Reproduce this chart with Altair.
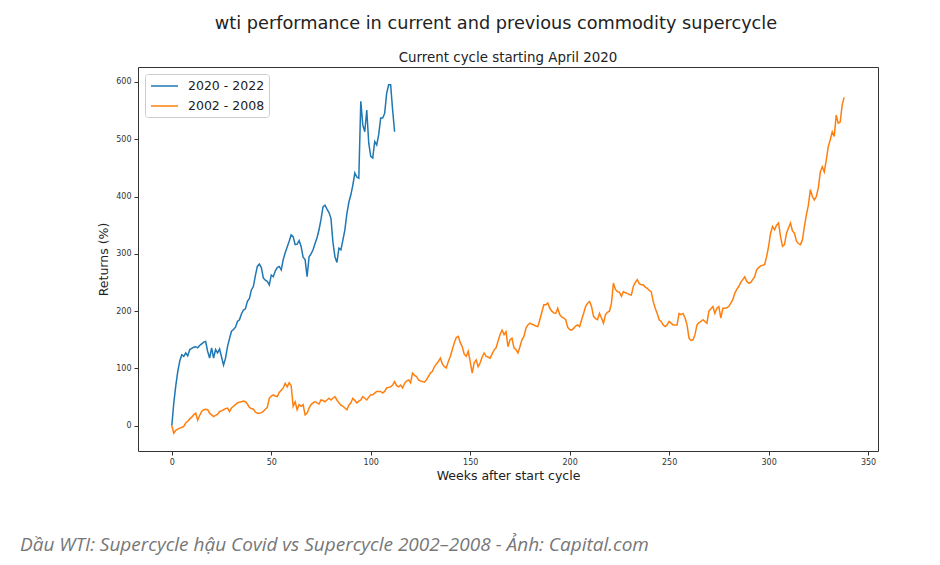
import altair as alt
import pandas as pd

# ---- data -------------------------------------------------------------
series_names = ["2020 - 2022", "2002 - 2008"]
series_colors = ["#1f77b4", "#ff7f0e"]

# weekly returns (%) of the current cycle, week 0 .. 112
returns_2020_2022 = [
    0, 40, 70, 95, 113, 124, 121, 127, 122, 133, 135, 137, 138, 136, 140, 143,
    146, 147, 130, 118, 136, 118, 133, 127, 134, 120, 106, 118, 138, 152, 165,
    168, 172, 182, 185, 195, 202, 204, 217, 222, 237, 243, 262, 278, 282, 276,
    258, 254, 252, 246, 263, 260, 270, 276, 278, 272, 290, 302, 312, 322, 333,
    330, 316, 317, 323, 313, 294, 290, 260, 295, 300, 307, 318, 328, 342, 360,
    382, 385, 378, 372, 362, 320, 295, 285, 310, 307, 324, 342, 370, 390, 403,
    420, 441, 434, 432, 566, 525, 513, 551, 493, 470, 467, 496, 490, 508, 537,
    537, 545, 580, 595, 595, 551, 513,
]

# weekly returns (%) of the 2002-2008 cycle, week 0 .. 338
returns_2002_2008 = [
    0, -13, -8, -6, -4, -3, -1, 5, 8, 12, 15, 19, 22, 10, 18, 25, 28, 29, 28, 22,
    19, 16, 18, 20, 25, 26, 28, 30, 31, 25, 31, 34, 37, 40, 41, 42, 43, 42, 38, 32,
    30, 29, 24, 22, 22, 23, 25, 29, 32, 48, 52, 54, 52, 51, 58, 62, 66, 74, 68, 75,
    70, 34, 42, 28, 37, 34, 37, 19, 22, 31, 37, 40, 42, 40, 38, 45, 44, 42, 45, 48,
    45, 48, 51, 45, 40, 36, 34, 31, 28, 36, 40, 48, 44, 40, 43, 45, 51, 48, 45, 50,
    54, 54, 57, 60, 60, 60, 57, 60, 66, 67, 68, 71, 77, 70, 68, 71, 66, 74, 78, 80,
    75, 92, 88, 86, 80, 78, 77, 76, 80, 86, 92, 95, 103, 108, 112, 118, 108, 103, 101, 112,
    121, 133, 145, 154, 156, 145, 138, 125, 121, 130, 112, 92, 110, 115, 103, 110, 120, 127, 121, 120,
    118, 125, 132, 136, 148, 159, 167, 159, 164, 138, 150, 153, 136, 133, 127, 138, 150, 156, 170, 176,
    179, 177, 176, 174, 173, 185, 198, 211, 211, 214, 205, 200, 197, 196, 205, 194, 190, 188, 185, 172,
    168, 167, 170, 174, 176, 173, 185, 196, 208, 214, 217, 208, 191, 187, 185, 196, 188, 179, 194, 198,
    200, 214, 249, 238, 234, 233, 226, 234, 232, 231, 229, 228, 243, 250, 255, 248, 246, 246, 242, 240,
    236, 234, 217, 205, 196, 185, 182, 176, 173, 176, 182, 179, 176, 176, 176, 196, 194, 196, 188, 176,
    153, 149, 150, 159, 176, 180, 182, 185, 182, 179, 200, 204, 208, 196, 205, 208, 188, 205, 205, 206,
    208, 214, 220, 231, 238, 243, 250, 255, 260, 252, 249, 250, 255, 260, 272, 276, 279, 280, 281, 295,
    313, 336, 348, 342, 350, 354, 330, 313, 316, 336, 345, 354, 340, 336, 322, 318, 316, 324, 348, 368,
    385, 412, 400, 394, 400, 415, 443, 452, 443, 464, 487, 499, 513, 505, 542, 528, 530, 560, 573,
]

x_ticks = [0, 50, 100, 150, 200, 250, 300, 350]
y_ticks = [0, 100, 200, 300, 400, 500, 600]

title_text = "wti performance in current and previous commodity supercycle"
subtitle_text = "Current cycle starting April 2020"
caption_text = "Dầu WTI: Supercycle hậu Covid vs Supercycle 2002–2008 - Ảnh: Capital.com"

# ---- tables -----------------------------------------------------------
rows = []
for w, v in enumerate(returns_2020_2022):
    rows.append({"week": w, "ret": v, "cycle": series_names[0]})
for w, v in enumerate(returns_2002_2008):
    rows.append({"week": w, "ret": v, "cycle": series_names[1]})
df = pd.DataFrame(rows)

FONT = "DejaVu Sans"

lines = alt.Chart(df).mark_line(strokeWidth=1.5).encode(
    x=alt.X("week:Q",
            scale=alt.Scale(domain=[-17, 355], nice=False, zero=False),
            axis=alt.Axis(values=x_ticks, title="Weeks after start cycle",
                          grid=False, domain=False, tickColor="#333",
                          tickSize=4, labelPadding=3, labelFontSize=8,
                          labelColor="#333", titleFontSize=12.5,
                          titleFontWeight="normal", titleColor="#222",
                          titlePadding=3, labelFlush=False)),
    y=alt.Y("ret:Q",
            scale=alt.Scale(domain=[-44, 626], nice=False, zero=False),
            axis=alt.Axis(values=y_ticks, title="Returns (%)",
                          grid=False, domain=False, tickColor="#333",
                          tickSize=4, labelPadding=3, labelFontSize=8,
                          labelColor="#333", titleFontSize=12.5,
                          titleFontWeight="normal", titleColor="#222",
                          titlePadding=5)),
    color=alt.Color("cycle:N",
                    scale=alt.Scale(domain=series_names, range=series_colors),
                    sort=series_names,
                    legend=alt.Legend(title=None, orient="top-left", offset=7,
                                      padding=4, strokeColor="#cccccc",
                                      cornerRadius=3, fillColor="white",
                                      labelFontSize=12.5, labelColor="#222",
                                      symbolType="M-1.93,0H1.93",
                                      symbolSize=196, symbolOffset=7.5,
                                      symbolStrokeWidth=1.5, labelOffset=15.5,
                                      rowPadding=5)),
    detail="cycle:N",
)

title_df = pd.DataFrame({"label": [title_text]})
main_title = alt.Chart(title_df).mark_text(
    align="center", baseline="middle", font=FONT, fontSize=17.7, color="#222"
).encode(x=alt.value(358), y=alt.value(-43), text="label:N")

subtitle_df = pd.DataFrame({"label": [subtitle_text]})
sub_title = alt.Chart(subtitle_df).mark_text(
    align="center", baseline="middle", font=FONT, fontSize=13.4, color="#222"
).encode(x=alt.value(370), y=alt.value(-9), text="label:N")

caption_df = pd.DataFrame({"label": [caption_text]})
caption = alt.Chart(caption_df).mark_text(
    align="left", baseline="middle", font="Open Sans", fontStyle="italic",
    fontSize=19, color="#777777"
).encode(x=alt.value(-118), y=alt.value(478), text="label:N")

chart = alt.layer(lines, main_title, sub_title, caption).properties(
    width=740,
    height=384,
    autosize=alt.AutoSizeParams(type="none"),
    padding={"left": 130, "top": 59, "right": 54, "bottom": 106},
).configure(font=FONT, background="white").configure_view(
    stroke="#333", strokeWidth=1
)

chart.save("out.html", embed_options={"renderer": "svg", "actions": False})
